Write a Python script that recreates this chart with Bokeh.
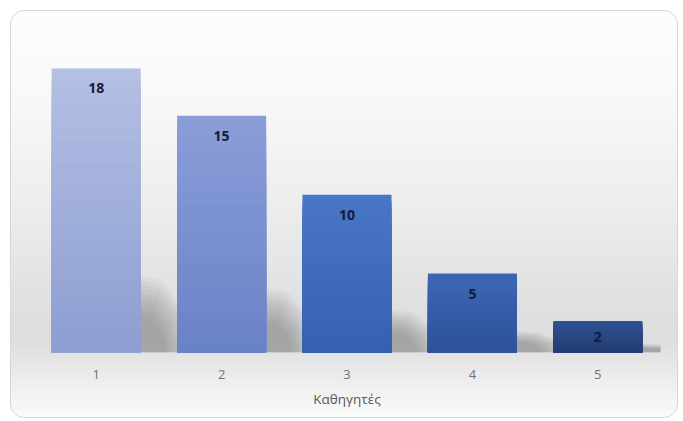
from bokeh.plotting import figure
from bokeh.models import Range1d, FixedTicker, ColumnDataSource
from bokeh.embed import file_html
from bokeh.resources import INLINE
from bokeh.core.properties import value

# ---- data ----
categories = ["1", "2", "3", "4", "5"]
counts = [18, 15, 10, 5, 2]
top_colors = ["#b3bfe3", "#8a9dd8", "#4a76c6", "#3c66b5", "#2f5192"]
bottom_colors = ["#8e9ed2", "#6a82c6", "#3461b0", "#2e529a", "#223d72"]
x_label = "Καθηγητές"

# ---- layout ----
W, H = 668, 408
ML, MR, MT, MB = 22, 19, 15, 67
Y_TOP = 20.66
BAR_W = 0.71
px_per_unit = (H - MT - MB) / Y_TOP

p = figure(width=W, height=H, output_backend="svg", toolbar_location=None, tools="",
           x_range=Range1d(0, len(categories)), y_range=Range1d(0, Y_TOP),
           y_axis_location=None,
           min_border_left=ML, min_border_right=MR, min_border_top=MT, min_border_bottom=MB)
p.background_fill_color = None
p.border_fill_color = None
p.outline_line_color = None
p.xgrid.visible = False
p.ygrid.visible = False
p.styles = {
    "border": "1px solid #d6d6d6",
    "border-radius": "14px",
    "margin": "10px 0 0 10px",
    "background": "linear-gradient(to bottom, #fdfdfd 0%, #f8f8f8 22%, #ececec 50%, #e0e0e0 72%, #dedede 82%, #ececec 90%, #fafafa 100%)",
}

centers = [i + 0.5 for i in range(len(categories))]

# ---- soft perspective shadows (derived from values) ----
sx, sy, sa = [], [], []
for c, v in zip(centers, counts):
    x0 = c + BAR_W / 2
    h = 0.24 * v
    for k in range(10):
        s = 1.15 - 0.065 * k
        sx.append([x0 - 0.05, x0 - 0.05, x0 + 0.15 * s, x0 + 0.3 * s, x0 + 0.38 * s])
        sy.append([0, h * s, h * s * 0.92, h * s * 0.55, 0])
        sa.append(0.042)
p.patches(xs=sx, ys=sy, fill_color="#404040", fill_alpha=sa, line_color=None)

# ---- gradient bars ----
def mix(c1, c2, t):
    a = [int(c1[i:i + 2], 16) for i in (1, 3, 5)]
    b = [int(c2[i:i + 2], 16) for i in (1, 3, 5)]
    return "#%02x%02x%02x" % tuple(round(a[j] + (b[j] - a[j]) * t) for j in range(3))

N = 24
bx, btop, bcol = [], [], []
for k in range(N):
    t = k / (N - 1)
    frac = 1 - k / N
    for c, v, tc, bc in zip(centers, counts, top_colors, bottom_colors):
        bx.append(c)
        btop.append(v * frac)
        bcol.append(mix(tc, bc, t))
p.vbar(x=bx, top=btop, bottom=0, width=BAR_W, fill_color=bcol, line_color=None)

# ---- value labels ----
offs = [min(20, v * px_per_unit / 2) for v in counts]
src = ColumnDataSource(dict(x=centers, y=counts, t=[str(v) for v in counts], off=offs))
p.text(x="x", y="y", text="t", y_offset="off", source=src,
       text_align="center", text_baseline="middle",
       text_font=value("Open Sans"), text_font_style="bold",
       text_font_size="14px", text_color="#161b36")

# ---- axis ----
ax = p.xaxis[0]
ax.ticker = FixedTicker(ticks=centers)
ax.major_label_overrides = {c: lab for c, lab in zip(centers, categories)}
ax.axis_line_color = None
ax.major_tick_line_color = None
ax.minor_tick_line_color = None
ax.major_tick_out = 0
ax.major_label_standoff = 17
ax.major_label_text_font = "Open Sans"
ax.major_label_text_font_size = "13px"
ax.major_label_text_color = "#737373"
ax.axis_label = x_label
ax.axis_label_text_font = "Open Sans"
ax.axis_label_text_font_style = "normal"
ax.axis_label_text_font_size = "13.5px"
ax.axis_label_text_color = "#595959"
ax.axis_label_standoff = 8

open("out.html", "w").write(file_html(p, INLINE))
